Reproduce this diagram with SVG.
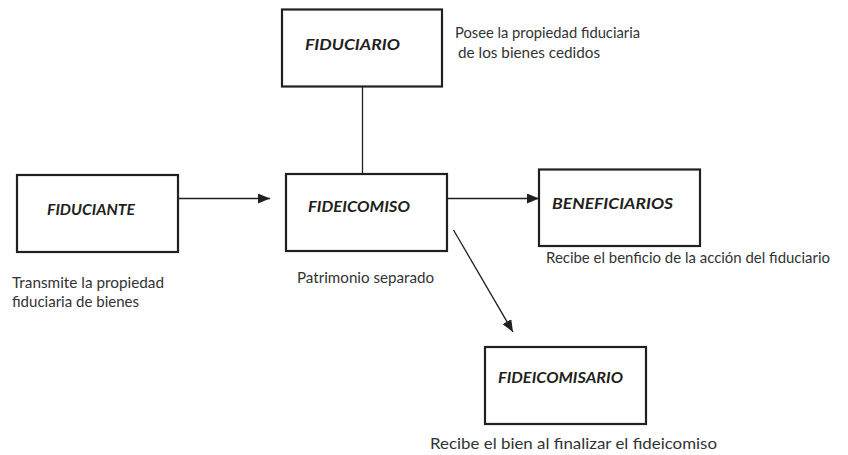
<svg xmlns="http://www.w3.org/2000/svg" width="848" height="455" viewBox="0 0 848 455">
<style>
.box{fill:#fff;stroke:#231f20;stroke-width:2.2}
.lbl{font-family:Lato,"Open Sans",sans-serif;font-style:italic;font-weight:bold;font-size:15px;fill:#231f20}
.note{font-family:Lato,"Open Sans",sans-serif;font-size:15px;fill:#333}
.con{stroke:#231f20;stroke-width:1.3;fill:none}
</style>
<defs>
<marker id="ah" viewBox="0 0 12 10" refX="12" refY="5" markerWidth="12" markerHeight="10" markerUnits="userSpaceOnUse" orient="auto">
<path d="M0,0 L12,5 L0,10 Z" fill="#231f20"/>
</marker>
</defs>
<rect width="848" height="455" fill="#fff"/>
<g id="connectors">
<line class="con" x1="362.5" y1="87" x2="362.5" y2="174"/>
<line class="con" x1="178" y1="198.5" x2="270" y2="198.5" marker-end="url(#ah)"/>
<line class="con" x1="447" y1="198.5" x2="539" y2="198.5" marker-end="url(#ah)"/>
<line class="con" x1="453.5" y1="230" x2="513" y2="332" marker-end="url(#ah)"/>
</g>
<g id="fiduciario">
<rect class="box" x="282" y="9.5" width="160" height="77"/>
<text class="lbl" x="305" y="50" textLength="95" lengthAdjust="spacingAndGlyphs">FIDUCIARIO</text>
<text class="note" x="455" y="38" textLength="185" lengthAdjust="spacingAndGlyphs">Posee la propiedad fiduciaria</text>
<text class="note" x="458" y="58" textLength="142" lengthAdjust="spacingAndGlyphs">de los bienes cedidos</text>
</g>
<g id="fiduciante">
<rect class="box" x="17" y="175" width="161" height="77"/>
<text class="lbl" x="47" y="215" textLength="88" lengthAdjust="spacingAndGlyphs">FIDUCIANTE</text>
<text class="note" x="12" y="288" textLength="152" lengthAdjust="spacingAndGlyphs">Transmite la propiedad</text>
<text class="note" x="12" y="307" textLength="127" lengthAdjust="spacingAndGlyphs">fiduciaria de bienes</text>
</g>
<g id="fideicomiso">
<rect class="box" x="286" y="174" width="161" height="77"/>
<text class="lbl" x="308" y="212" textLength="102" lengthAdjust="spacingAndGlyphs">FIDEICOMISO</text>
<text class="note" x="297" y="283" textLength="137" lengthAdjust="spacingAndGlyphs">Patrimonio separado</text>
</g>
<g id="beneficiarios">
<rect class="box" x="539" y="169.5" width="161" height="76.5"/>
<text class="lbl" x="552" y="209" textLength="121" lengthAdjust="spacingAndGlyphs">BENEFICIARIOS</text>
<text class="note" x="546" y="263" textLength="284" lengthAdjust="spacingAndGlyphs">Recibe el benficio de la acción del fiduciario</text>
</g>
<g id="fideicomisario">
<rect class="box" x="485" y="347" width="161" height="77"/>
<text class="lbl" x="498" y="383" textLength="125" lengthAdjust="spacingAndGlyphs">FIDEICOMISARIO</text>
<text class="note" x="430" y="449" textLength="287" lengthAdjust="spacingAndGlyphs">Recibe el bien al finalizar el fideicomiso</text>
</g>
</svg>
